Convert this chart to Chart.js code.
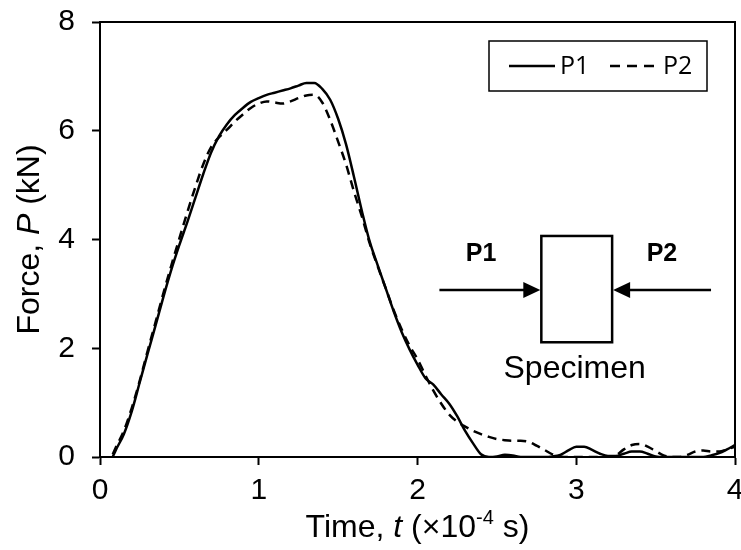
<!DOCTYPE html>
<html><head><meta charset="utf-8">
<script src="https://cdn.jsdelivr.net/npm/chart.js@4"></script>
<style>html,body{margin:0;padding:0;background:#fff}</style>
</head><body>
<canvas id="c" width="741" height="550" style="width:741px;height:550px;display:block"></canvas>
<script>
// ---- data ----
const timeValues = [0.08,0.10,0.15,0.20,0.25,0.30,0.35,0.40,0.45,0.50,
  0.55,0.60,0.65,0.70,0.75,0.80,0.85,0.90,0.95,1.00,
  1.05,1.10,1.15,1.20,1.25,1.30,1.35,1.40,1.45,1.50,
  1.55,1.60,1.65,1.70,1.75,1.80,1.85,1.90,1.95,2.00,
  2.05,2.10,2.15,2.20,2.25,2.30,2.35,2.40,2.45,2.50,
  2.55,2.60,2.65,2.70,2.75,2.80,2.85,2.90,2.95,3.00,
  3.05,3.10,3.15,3.20,3.25,3.30,3.35,3.40,3.45,3.50,
  3.55,3.60,3.65,3.70,3.75,3.80,3.85,3.90,3.95,4.00];
const p1Values = [0,0.13,0.42,0.84,1.37,1.90,2.42,2.95,3.45,3.90,
  4.32,4.76,5.20,5.60,5.90,6.12,6.29,6.42,6.53,6.60,
  6.66,6.70,6.74,6.78,6.83,6.88,6.88,6.77,6.57,6.22,
  5.75,5.15,4.52,3.95,3.52,3.10,2.68,2.30,1.98,1.70,
  1.45,1.33,1.15,0.98,0.75,0.48,0.25,0.05,0,0.01,
  0.04,0.03,0,0,0,0,0.01,0.04,0.12,0.19,
  0.19,0.13,0.06,0.02,0.02,0.06,0.10,0.10,0.06,0.01,
  0,0,0,0,0,0,0.03,0.07,0.14,0.22];
const p2Values = [0.05,0.18,0.48,0.90,1.40,1.95,2.48,3.02,3.53,4.02,
  4.50,4.96,5.38,5.70,5.88,6.02,6.17,6.30,6.42,6.50,
  6.54,6.52,6.50,6.54,6.60,6.65,6.66,6.52,6.20,5.80,
  5.38,4.88,4.42,3.92,3.50,3.10,2.70,2.35,2.05,1.80,
  1.50,1.22,0.98,0.78,0.65,0.56,0.48,0.42,0.37,0.33,
  0.31,0.30,0.30,0.28,0.21,0.13,0.05,0.01,0,0,
  0,0,0,0,0.03,0.14,0.22,0.24,0.19,0.11,
  0.03,0,0,0.04,0.10,0.12,0.10,0.10,0.14,0.19];
const seriesLabels = ['P1', 'P2'];
const xTickValues = [0, 1, 2, 3, 4];
const yTickValues = [0, 2, 4, 6, 8];
// axis titles as runs: [text, style]  (style: '' normal, 'i' italic, 's' superscript)
const xTitleRuns = [['Time, ', ''], ['t', 'i'], [' (\u00d710', ''], ['-4', 's'], [' s)', '']];
const yTitleRuns = [['Force, ', ''], ['P', 'i'], [' (kN)', '']];
const insetLabels = ['P1', 'P2', 'Specimen'];

// ---- build chart ----
const FONT = "'Liberation Sans', Arial, sans-serif";
const toPoints = vals => vals.map((v, i) => ({x: timeValues[i], y: v}));

function runFont(style) {
  if (style === 'i') return 'italic 32px ' + FONT;
  if (style === 's') return '20px ' + FONT;
  return '32px ' + FONT;
}
function drawRuns(ctx, runs, cx, cy) {
  let total = 0;
  runs.forEach(([t, s]) => { ctx.font = runFont(s); total += ctx.measureText(t).width; });
  let xx = cx - total / 2;
  ctx.textAlign = 'left'; ctx.textBaseline = 'middle';
  runs.forEach(([t, s]) => {
    ctx.font = runFont(s);
    ctx.fillText(t, xx, s === 's' ? cy - 10 : cy);
    xx += ctx.measureText(t).width;
  });
}

const frame = {
  id: 'frame',
  afterDatasetsDraw(chart) {
    const {ctx, chartArea: a} = chart;
    ctx.save();
    ctx.strokeStyle = '#000'; ctx.lineWidth = 2;
    ctx.beginPath();
    ctx.moveTo(a.left, a.top); ctx.lineTo(a.right, a.top); ctx.lineTo(a.right, a.bottom);
    ctx.stroke();
    ctx.restore();
  },
  afterDraw(chart) {
    const {ctx, chartArea: a, scales: {x, y}} = chart;
    ctx.save();
    ctx.fillStyle = '#000'; ctx.strokeStyle = '#000';
    // axis titles
    drawRuns(ctx, xTitleRuns, (a.left + a.right) / 2, 528);
    ctx.save();
    ctx.translate(30, (a.top + a.bottom) / 2);
    ctx.rotate(-Math.PI / 2);
    drawRuns(ctx, yTitleRuns, 0, 0);
    ctx.restore();

    // legend box
    const ds = chart.data.datasets;
    const bw = 218, bh = 50;
    const bx = a.right - 28 - bw, by = a.top + 19;
    ctx.lineWidth = 1.5;
    ctx.strokeRect(bx, by, bw, bh);
    const ly = by + bh / 2;
    ctx.font = "25px 'Open Sans', sans-serif";
    ctx.textBaseline = 'middle'; ctx.textAlign = 'left';
    ctx.lineWidth = 2.5;
    ctx.beginPath(); ctx.moveTo(bx + 20, ly); ctx.lineTo(bx + 66, ly); ctx.stroke();
    ctx.fillText(ds[0].label, bx + 71, ly + 1);
    ctx.setLineDash([10, 7]);
    ctx.beginPath(); ctx.moveTo(bx + 121, ly); ctx.lineTo(bx + 172, ly); ctx.stroke();
    ctx.setLineDash([]);
    ctx.fillText(ds[1].label, bx + 174, ly + 1);

    // inset specimen diagram
    const L = x.getPixelForValue(2.78), R = x.getPixelForValue(3.226);
    const T = y.getPixelForValue(4.065), B = y.getPixelForValue(2.11);
    const ay = y.getPixelForValue(3.07);
    ctx.lineWidth = 2.5;
    ctx.strokeRect(L, T, R - L, B - T);
    const arrow = (x0, x1) => {
      const dir = Math.sign(x1 - x0);
      ctx.beginPath(); ctx.moveTo(x0, ay); ctx.lineTo(x1 - dir * 14, ay); ctx.stroke();
      ctx.beginPath(); ctx.moveTo(x1, ay); ctx.lineTo(x1 - dir * 17, ay - 8); ctx.lineTo(x1 - dir * 17, ay + 8); ctx.closePath(); ctx.fill();
    };
    arrow(x.getPixelForValue(2.138), L - 1);
    arrow(x.getPixelForValue(3.849), R + 1);
    ctx.textAlign = 'center'; ctx.textBaseline = 'middle';
    ctx.font = "bold 25px " + FONT;
    ctx.fillText(insetLabels[0], x.getPixelForValue(2.40), y.getPixelForValue(3.73));
    ctx.fillText(insetLabels[1], x.getPixelForValue(3.54), y.getPixelForValue(3.73));
    ctx.font = "32px " + FONT;
    ctx.fillText(insetLabels[2], x.getPixelForValue(2.99), y.getPixelForValue(1.62));
    ctx.restore();
  }
};

const axisCommon = (min, max, step) => ({
  type: 'linear', min, max,
  ticks: {stepSize: step, color: '#000', font: {family: FONT, size: 30}, callback: v => String(v)},
  grid: {drawOnChartArea: false, drawTicks: true, tickLength: 8, tickColor: '#000', tickWidth: 2},
  border: {display: true, color: '#000', width: 2},
  title: {display: false}
});

const xAxis = axisCommon(xTickValues[0], xTickValues[xTickValues.length - 1], xTickValues[1] - xTickValues[0]);
xAxis.ticks.padding = 8;
xAxis.afterFit = s => { s.height = 93; s.paddingLeft = 0; s.paddingRight = 0; };

const yAxis = axisCommon(yTickValues[0], yTickValues[yTickValues.length - 1], yTickValues[1] - yTickValues[0]);
yAxis.ticks.padding = 17;
yAxis.afterFit = s => { s.width = 100; s.paddingTop = 0; s.paddingBottom = 0; };

new Chart(document.getElementById('c'), {
  type: 'line',
  data: {
    datasets: [
      {label: seriesLabels[0], data: toPoints(p1Values), borderColor: '#000', borderWidth: 2.5,
       pointRadius: 0, cubicInterpolationMode: 'monotone', fill: false},
      {label: seriesLabels[1], data: toPoints(p2Values), borderColor: '#000', borderWidth: 2.5,
       borderDash: [9, 6], pointRadius: 0, cubicInterpolationMode: 'monotone', fill: false}
    ]
  },
  options: {
    responsive: false, animation: false, devicePixelRatio: 1,
    layout: {padding: {top: 22, right: 6, left: 0, bottom: 0}},
    plugins: {legend: {display: false}, tooltip: {enabled: false}},
    scales: {x: xAxis, y: yAxis}
  },
  plugins: [frame]
});
</script>
</body></html>
